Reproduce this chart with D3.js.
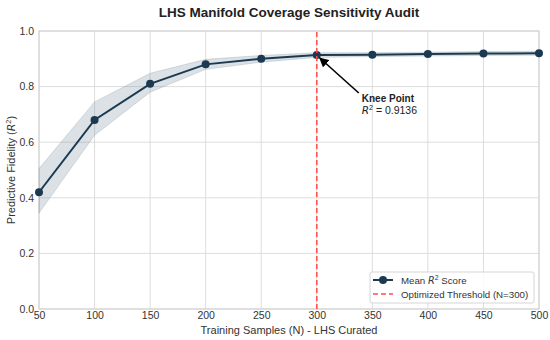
<!DOCTYPE html>
<html><head><meta charset="utf-8">
<script src="https://cdn.jsdelivr.net/npm/d3@7"></script>
<style>
body{margin:0;background:#fff;}
text{font-family:"Liberation Sans",Arial,sans-serif;}
</style></head>
<body>
<svg id="c" width="550" height="340"></svg>
<script>
const samples = [50,100,150,200,250,300,350,400,450,500];
const meanR2 = [0.42,0.68,0.81,0.88,0.90,0.9136,0.915,0.917,0.919,0.920];
const lowerR2 = [0.345,0.625,0.78,0.862,0.888,0.905,0.908,0.910,0.912,0.913];
const upperR2 = [0.505,0.745,0.848,0.898,0.912,0.922,0.922,0.924,0.926,0.927];
const xTicks = [50,100,150,200,250,300,350,400,450,500];
const yTicks = [0.0,0.2,0.4,0.6,0.8,1.0];
const threshold = 300;
const kneeValue = 0.9136;

const svg = d3.select("#c");
const m = {l:39, r:11, t:31, b:31};
const W = 550, H = 340;
const x = d3.scaleLinear().domain([50,500]).range([m.l, W-m.r]);
const y = d3.scaleLinear().domain([0,1]).range([H-m.b, m.t]);
const mathFont = "DejaVu Sans, sans-serif";

const g = svg.append("g");
g.selectAll(".gx").data(xTicks).join("line")
  .attr("x1",d=>x(d)).attr("x2",d=>x(d)).attr("y1",y(0)).attr("y2",y(1))
  .attr("stroke","#d9d9d9").attr("stroke-width",0.9);
g.selectAll(".gy").data(yTicks).join("line")
  .attr("x1",x(50)).attr("x2",x(500)).attr("y1",d=>y(d)).attr("y2",d=>y(d))
  .attr("stroke","#d9d9d9").attr("stroke-width",0.9);
g.append("rect").attr("x",x(50)).attr("y",y(1)).attr("width",x(500)-x(50)).attr("height",y(0)-y(1))
  .attr("fill","none").attr("stroke","#d0d0d0").attr("stroke-width",1);

const xAxis = d3.axisBottom(x).tickValues(xTicks).tickSize(0).tickPadding(3).tickFormat(d3.format("d"));
const gx = svg.append("g").attr("transform",`translate(0,${y(0)})`).call(xAxis);
gx.select(".domain").remove();
gx.selectAll("text").attr("font-size",10.5).attr("fill","#333");
const yAxis = d3.axisLeft(y).tickValues(yTicks).tickSize(0).tickPadding(5).tickFormat(d3.format(".1f"));
const gy = svg.append("g").attr("transform",`translate(${x(50)},0)`).call(yAxis);
gy.select(".domain").remove();
gy.selectAll("text").attr("font-size",10.5).attr("fill","#333");

const data = samples.map((s,i)=>({s, m:meanR2[i], lo:lowerR2[i], hi:upperR2[i]}));
svg.append("path").datum(data)
  .attr("d", d3.area().x(d=>x(d.s)).y0(d=>y(d.lo)).y1(d=>y(d.hi)))
  .attr("fill","#7f95a3").attr("fill-opacity",0.28)
  .attr("stroke","#7f95a3").attr("stroke-opacity",0.35).attr("stroke-width",0.8);
svg.append("path").datum(data)
  .attr("d", d3.line().x(d=>x(d.s)).y(d=>y(d.m)))
  .attr("fill","none").attr("stroke","#1b3a52").attr("stroke-width",2);
svg.selectAll(".pt").data(data).join("circle")
  .attr("cx",d=>x(d.s)).attr("cy",d=>y(d.m)).attr("r",4).attr("fill","#1b3a52");

svg.append("line").attr("x1",x(threshold)).attr("x2",x(threshold)).attr("y1",y(0)).attr("y2",y(1))
  .attr("stroke","#ff4d4d").attr("stroke-width",1.5).attr("stroke-dasharray","5,3");

const px = x(threshold), py = y(kneeValue);
const tx = px + 45, ty = py + 47;
svg.append("defs").append("marker").attr("id","ah").attr("viewBox","0 0 10 10")
  .attr("refX",9).attr("refY",5).attr("markerWidth",6).attr("markerHeight",6).attr("orient","auto")
  .append("path").attr("d","M0,0 L10,5 L0,10 z").attr("fill","#000");
svg.append("line").attr("x1",tx-3).attr("y1",ty-9).attr("x2",px+3).attr("y2",py+3)
  .attr("stroke","#000").attr("stroke-width",1.6).attr("marker-end","url(#ah)");
svg.append("text").attr("x",tx).attr("y",ty).attr("font-size",10).attr("font-weight","bold").attr("fill","#222").text("Knee Point");
const t2 = svg.append("text").attr("x",tx).attr("y",ty+12).attr("font-size",10.5).attr("fill","#222");
t2.append("tspan").attr("font-style","italic").attr("font-family",mathFont).text("R");
t2.append("tspan").attr("font-size",7).attr("dy",-4).text("2");
t2.append("tspan").attr("dy",4).text(" = 0.9136");

svg.append("text").attr("x",(x(50)+x(500))/2).attr("y",17).attr("text-anchor","middle")
  .attr("font-size",13.5).attr("font-weight","bold").attr("fill","#222").text("LHS Manifold Coverage Sensitivity Audit");
svg.append("text").attr("x",(x(50)+x(500))/2).attr("y",334).attr("text-anchor","middle")
  .attr("font-size",11).attr("fill","#333").text("Training Samples (N) - LHS Curated");
const yl = svg.append("text").attr("transform",`translate(15,${(y(0)+y(1))/2}) rotate(-90)`).attr("text-anchor","middle")
  .attr("font-size",11).attr("fill","#333");
yl.append("tspan").text("Predictive Fidelity (");
yl.append("tspan").attr("font-style","italic").attr("font-family",mathFont).text("R");
yl.append("tspan").attr("font-size",7.5).attr("dy",-4).text("2");
yl.append("tspan").attr("dy",4).text(")");

const lg = svg.append("g").attr("transform","translate(370,272)");
lg.append("rect").attr("width",164).attr("height",31).attr("rx",2).attr("fill","#fff").attr("fill-opacity",0.85)
  .attr("stroke","#d5d5d5");
lg.append("line").attr("x1",3).attr("x2",23).attr("y1",8).attr("y2",8).attr("stroke","#1b3a52").attr("stroke-width",2);
lg.append("circle").attr("cx",13).attr("cy",8).attr("r",4).attr("fill","#1b3a52");
const l1 = lg.append("text").attr("x",31).attr("y",11.5).attr("font-size",9.7).attr("fill","#333");
l1.append("tspan").text("Mean ");
l1.append("tspan").attr("font-style","italic").attr("font-family",mathFont).text("R");
l1.append("tspan").attr("font-size",7).attr("dy",-4).text("2");
l1.append("tspan").attr("dy",4).text(" Score");
lg.append("line").attr("x1",3).attr("x2",23).attr("y1",22).attr("y2",22).attr("stroke","#ff4d4d").attr("stroke-width",1.5).attr("stroke-dasharray","5,3");
lg.append("text").attr("x",31).attr("y",25.5).attr("font-size",9.7).attr("fill","#333").text("Optimized Threshold (N=300)");
</script>
</body></html>
